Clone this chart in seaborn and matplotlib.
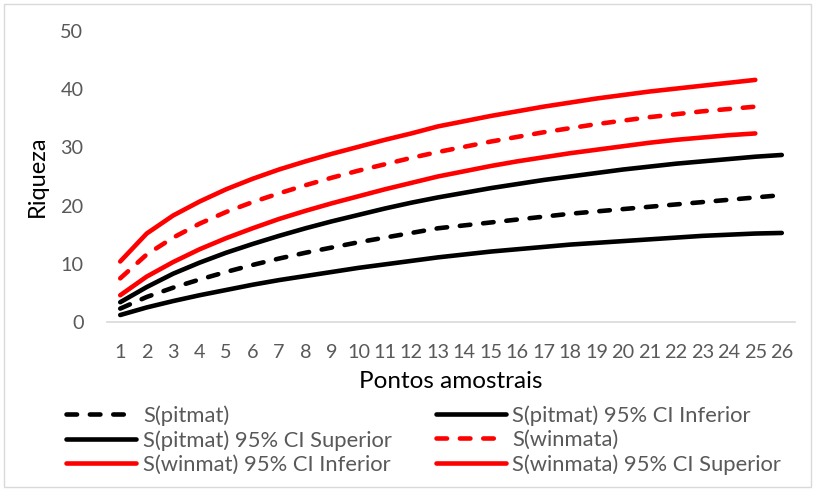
import matplotlib
matplotlib.use("Agg")
import matplotlib.pyplot as plt
from matplotlib.lines import Line2D
from matplotlib.patches import Rectangle
import seaborn as sns
import pandas as pd

# Pontos amostrais (sample points)
pontos = list(range(1, 27))

# richness curves
s_pitmat = [2.3, 4.3, 5.9, 7.3, 8.6, 9.8, 10.9, 11.9, 12.8, 13.7, 14.5, 15.3, 16.1,
            16.6, 17.1, 17.6, 18.1, 18.6, 19.0, 19.4, 19.8, 20.2, 20.6, 21.0, 21.4, 21.8]
s_pitmat_inf = [1.2, 2.5, 3.6, 4.6, 5.5, 6.4, 7.2, 7.9, 8.6, 9.3, 9.9, 10.5, 11.1,
                11.6, 12.1, 12.5, 12.9, 13.3, 13.6, 13.9, 14.2, 14.5, 14.8, 15.0, 15.2, 15.3]
s_pitmat_sup = [3.4, 6.0, 8.3, 10.2, 11.9, 13.4, 14.8, 16.1, 17.3, 18.4, 19.5, 20.5, 21.4,
                22.2, 23.0, 23.7, 24.4, 25.0, 25.6, 26.2, 26.7, 27.2, 27.6, 28.0, 28.4, 28.7]
s_winmata = [7.5, 11.6, 14.5, 16.9, 18.9, 20.6, 22.1, 23.5, 24.8, 26.0, 27.1, 28.2, 29.2,
             30.1, 31.0, 31.8, 32.6, 33.3, 34.0, 34.6, 35.2, 35.7, 36.2, 36.6, 37.0]
s_winmat_inf = [4.6, 7.8, 10.3, 12.5, 14.4, 16.1, 17.7, 19.1, 20.4, 21.6, 22.8, 23.9, 25.0,
                25.9, 26.8, 27.6, 28.3, 29.0, 29.6, 30.2, 30.8, 31.3, 31.7, 32.1, 32.4]
s_winmata_sup = [10.4, 15.2, 18.3, 20.7, 22.8, 24.6, 26.2, 27.6, 28.9, 30.1, 31.3, 32.4, 33.6,
                 34.5, 35.4, 36.2, 37.0, 37.7, 38.4, 39.0, 39.6, 40.1, 40.6, 41.1, 41.6]

series = [
    ("S(pitmat)", s_pitmat, "black", True),
    ("S(pitmat) 95% CI Inferior", s_pitmat_inf, "black", False),
    ("S(pitmat) 95% CI Superior", s_pitmat_sup, "black", False),
    ("S(winmata)", s_winmata, "#ff0000", True),
    ("S(winmat) 95% CI Inferior", s_winmat_inf, "#ff0000", False),
    ("S(winmata) 95% CI Superior", s_winmata_sup, "#ff0000", False),
]

sns.set_style("white")
plt.rcParams["font.family"] = ["Lato", "DejaVu Sans"]

fig = plt.figure(figsize=(8.15, 4.91), dpi=100)
ax = fig.add_axes([107 / 815, 1 - 322 / 491, (795 - 107) / 815, (322 - 31) / 491])

lw = 3.3
dash = (2.3, 2.8)
handles = {}
for name, vals, color, dashed in series:
    df = pd.DataFrame({"x": pontos[:len(vals)], "y": vals})
    sns.lineplot(data=df, x="x", y="y", ax=ax, color=color, linewidth=lw,
                 solid_capstyle="round", dash_capstyle="round")
    line = ax.lines[-1]
    if dashed:
        line.set_dashes(dash)
    h = Line2D([], [], color=color, linewidth=lw, solid_capstyle="round",
               dash_capstyle="round")
    if dashed:
        h.set_dashes(dash)
    handles[name] = h

ax.set_xlim(0.5, 26.5)
ax.set_ylim(0, 50)
ax.set_xticks(pontos)
ax.set_yticks(range(0, 51, 10))
ax.tick_params(axis="both", length=0, labelsize=14.3, labelcolor="#595959")
ax.tick_params(axis="x", pad=16)
ax.tick_params(axis="y", pad=17)
for s in ["top", "right", "left"]:
    ax.spines[s].set_visible(False)
ax.spines["bottom"].set_color("#d9d9d9")
ax.spines["bottom"].set_linewidth(1.2)
ax.grid(False)

ax.set_xlabel("Pontos amostrais", fontsize=17.5, color="black", labelpad=7)
ax.set_ylabel("Riqueza", fontsize=17, color="black", labelpad=9)

order = ["S(pitmat)", "S(pitmat) 95% CI Superior", "S(winmat) 95% CI Inferior",
         "S(pitmat) 95% CI Inferior", "S(winmata)", "S(winmata) 95% CI Superior"]
leg = fig.legend([handles[n] for n in order], order, ncol=2, loc="upper left",
                 bbox_to_anchor=(66 / 815, 1 - 405 / 491), frameon=False,
                 fontsize=15.8, handlelength=3.2, handletextpad=0.3,
                 columnspacing=2.0, labelspacing=0.2, borderaxespad=0,
                 borderpad=0)
for t in leg.get_texts():
    t.set_color("#595959")

fig.patches.append(Rectangle((4 / 815, 4 / 491), 807 / 815, 483 / 491,
                             transform=fig.transFigure, fill=False,
                             edgecolor="#d9d9d9", linewidth=1))

fig.savefig("out.png", dpi=100)
